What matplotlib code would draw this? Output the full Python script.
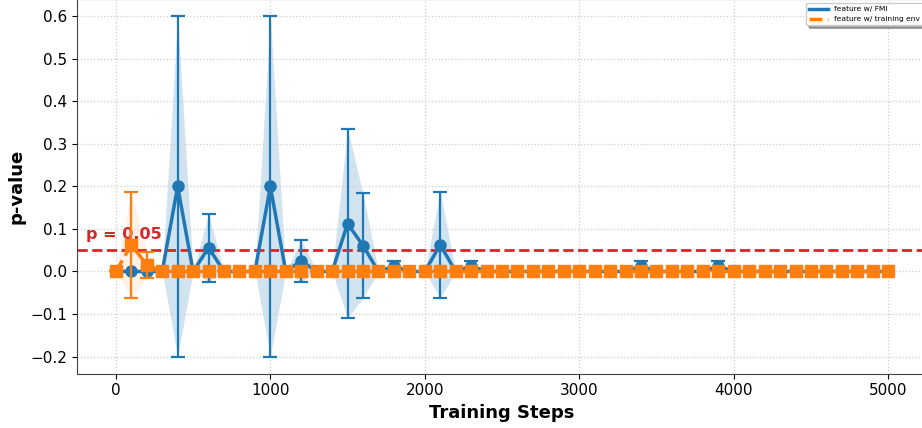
import matplotlib
matplotlib.use("Agg")
from matplotlib import pyplot as plt
from matplotlib.lines import Line2D
import numpy as np

# training steps, evaluated every 100 steps
steps = list(range(0, 5001, 100))

# p-values for the FMI feature (mean / std over seeds)
fmi_mean = [0, 0, 0, 0, 0.2, 0, 0.056, 0, 0, 0,
            0.2, 0, 0.025, 0, 0, 0.1125, 0.061, 0, 0.0125, 0,
            0, 0.0625, 0, 0.0125, 0, 0, 0, 0, 0, 0,
            0, 0, 0, 0, 0.0125, 0, 0, 0, 0, 0.0125,
            0, 0, 0, 0, 0, 0, 0, 0, 0, 0,
            0]
fmi_std = [0, 0, 0, 0, 0.4, 0, 0.08, 0, 0, 0,
           0.4, 0, 0.05, 0, 0, 0.2225, 0.123, 0, 0.0125, 0,
           0, 0.125, 0, 0.0125, 0, 0, 0, 0, 0, 0,
           0, 0, 0, 0, 0.0125, 0, 0, 0, 0, 0.0125,
           0, 0, 0, 0, 0, 0, 0, 0, 0, 0,
           0]

# p-values for the training-env feature
env_mean = [0, 0.0625, 0.0156] + [0] * 48
env_std = [0, 0.125, 0.031] + [0] * 48

threshold = 0.05

blue = "#1f77b4"
orange = "#ff7f0e"
red = "#d62728"

fig = plt.figure(figsize=(9.22, 4.28), dpi=100)
ax = fig.add_axes([0.0838, 0.1273, 0.9214, 0.874])

x = np.array(steps)
m1, s1 = np.array(fmi_mean), np.array(fmi_std)
m2, s2 = np.array(env_mean), np.array(env_std)

ax.fill_between(x, m1 - s1, m1 + s1, color=blue, alpha=0.2, linewidth=0)
ax.fill_between(x, m2 - s2, m2 + s2, color=orange, alpha=0.1, linewidth=0)

ax.errorbar(x, m1, yerr=s1, color=blue, marker="o", markersize=8,
            linewidth=2.5, elinewidth=1.6, capsize=5, capthick=1.6, zorder=3)
ax.errorbar(x, m2, yerr=s2, color=orange, marker="s", markersize=8,
            linestyle="--", linewidth=2.5, elinewidth=1.6, capsize=5,
            capthick=1.6, zorder=4)

ax.axhline(threshold, color=red, linestyle="--", linewidth=2, zorder=2)
ax.text(-195, threshold + 0.027, "p = 0.05", color=red, fontsize=11.5,
        fontweight="bold")

ax.set_xlim(-250, 5250)
ax.set_ylim(-0.24, 0.64)
ax.set_xticks(range(0, 5001, 1000))
ax.set_yticks(np.arange(-0.2, 0.61, 0.1))
ax.tick_params(labelsize=11)
ax.grid(True, linestyle=":", color="#cccccc", linewidth=0.9)
for sp in ax.spines.values():
    sp.set_color("#444444")

ax.set_xlabel("Training Steps", fontsize=13, fontweight="bold")
ax.set_ylabel("p-value", fontsize=13, fontweight="bold")

handles = [Line2D([], [], color=blue, linewidth=2.5),
           Line2D([], [], color=orange, linewidth=2.5, linestyle="--")]
ax.legend(handles, ["feature w/ FMI", "feature w/ training env"],
          loc="upper right", fontsize=5.4, handlelength=2.5,
          shadow=True, fancybox=True)

fig.savefig("out.png", dpi=100)
